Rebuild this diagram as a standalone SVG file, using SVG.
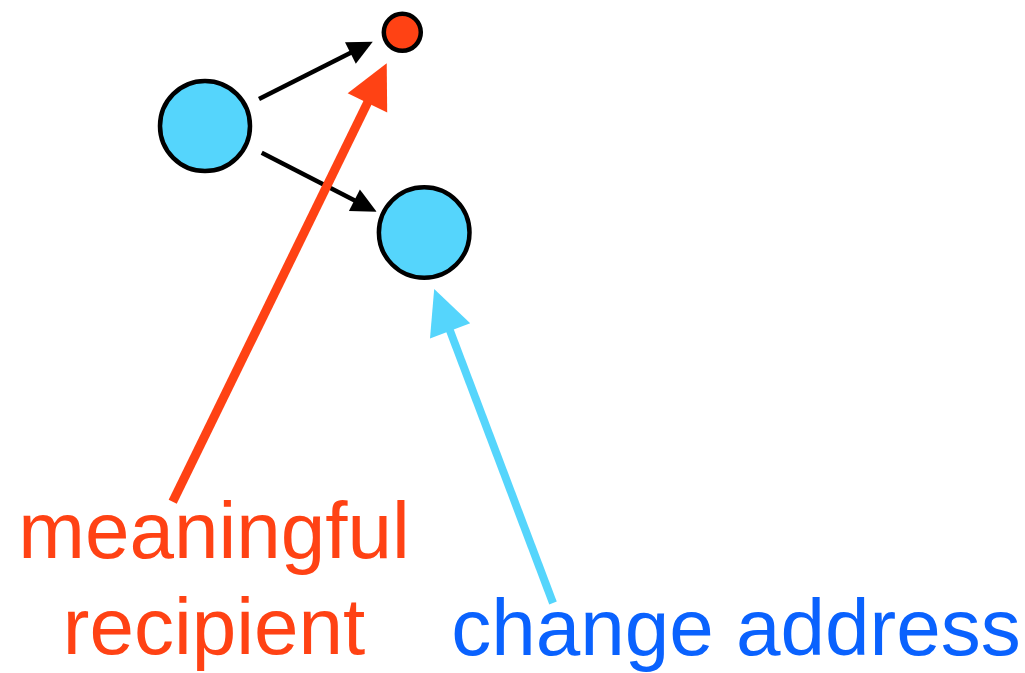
<svg xmlns="http://www.w3.org/2000/svg" width="1025" height="673" viewBox="0 0 1025 673">
<style>
.node{stroke:#000;stroke-width:4.5}
.blue{fill:#55D5FC}
.red{fill:#FF4214}
.k{stroke:#000;stroke-width:4.5;fill:none}
.lbl{font-family:"Liberation Sans",Arial,sans-serif;font-size:80px;text-anchor:middle}
</style>
<defs>
<marker id="hk" markerUnits="userSpaceOnUse" markerWidth="25" markerHeight="24" refX="2" refY="12" orient="auto" overflow="visible">
<path d="M0,0 L25,12 L0,24 z" fill="#000"/>
</marker>
<marker id="hr" markerUnits="userSpaceOnUse" markerWidth="44" markerHeight="44" refX="2" refY="22" orient="auto" overflow="visible">
<path d="M0,0 L44,22 L0,44 z" fill="#FF4214"/>
</marker>
<marker id="hb" markerUnits="userSpaceOnUse" markerWidth="45" markerHeight="43" refX="2" refY="21.5" orient="auto" overflow="visible">
<path d="M0,0 L45,21.5 L0,43 z" fill="#55D5FC"/>
</marker>
</defs>
<g id="connectors">
<line class="k" x1="259" y1="99" x2="352.2" y2="52.1" marker-end="url(#hk)"/>
<line class="k" x1="261.7" y1="152.7" x2="356.2" y2="201.2" marker-end="url(#hk)"/>
<line x1="172.7" y1="501.7" x2="368.3" y2="101.1" stroke="#FF4214" stroke-width="9" marker-end="url(#hr)"/>
<line x1="553" y1="603" x2="449.4" y2="329.1" stroke="#55D5FC" stroke-width="8" marker-end="url(#hb)"/>
</g>
<g id="node-source"><circle class="node blue" cx="205" cy="126" r="45"/></g>
<g id="node-recipient"><circle class="node red" cx="402.3" cy="32.3" r="18.5"/></g>
<g id="node-change"><circle class="node blue" cx="424.2" cy="232.5" r="45.3"/></g>
<g id="labels">
<text class="lbl" x="214" y="558" fill="#FF4214">meaningful</text>
<text class="lbl" x="214" y="654" fill="#FF4214">recipient</text>
<text class="lbl" x="736" y="655" fill="#0A62FE">change address</text>
</g>
</svg>
